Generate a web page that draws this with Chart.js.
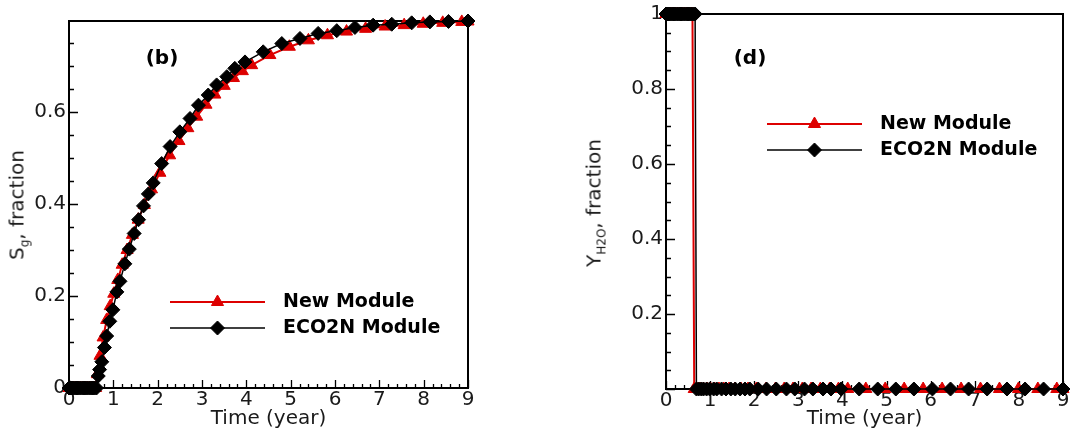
<!DOCTYPE html>
<html lang="en">
<head>
<meta charset="UTF-8">
<title>Sg and Y_H2O vs time</title>
<script src="https://cdn.jsdelivr.net/npm/chart.js"></script>
<style>
  body { margin: 0; background: #fff; font-family: "DejaVu Sans", sans-serif; color: #1a1a1a; }
  .wrap { position: relative; width: 1071px; height: 434px; overflow: hidden; }
  .panel { position: absolute; top: 0; height: 434px; }
  #panelB { left: 0; width: 535px; }
  #panelD { left: 535px; width: 536px; }
  .ytitle { position: absolute; transform: translate(-50%, -50%) rotate(-90deg); white-space: nowrap; font-size: 20px; }
  .ytitle sub { font-size: 12px; }
  .tag { position: absolute; transform: translate(-50%, -50%); font-weight: bold; font-size: 20px; color: #000; }
</style>
</head>
<body>
<div class="wrap">
  <div class="panel" id="panelB"><canvas id="chartB"></canvas></div>
  <div class="panel" id="panelD"><canvas id="chartD"></canvas></div>
  <div class="ytitle" style="left:18px; top:205px;">S<sub>g</sub>, fraction</div>
  <div class="ytitle" style="left:595px; top:203px;">Y<sub>H2O</sub>, fraction</div>
  <div class="tag" style="left:162px; top:57px;">(b)</div>
  <div class="tag" style="left:750px; top:57px;">(d)</div>
</div>

<script>
// tick labels
const xTicks = [0, 1, 2, 3, 4, 5, 6, 7, 8, 9];
const yTicksB = [0, 0.2, 0.4, 0.6];
const yTicksD = [0.2, 0.4, 0.6, 0.8, 1];

// ECO2N module (black diamonds)
const timeEco2n = [0, 0.02, 0.04, 0.07, 0.1, 0.14, 0.18, 0.22, 0.26, 0.3, 0.34, 0.38, 0.42, 0.46, 0.5, 0.54, 0.58, 0.62,
  0.66, 0.69, 0.74, 0.8, 0.85, 0.92, 0.99, 1.08, 1.15, 1.26, 1.36, 1.47, 1.57, 1.68, 1.79, 1.9,
  2.09, 2.28, 2.5, 2.73, 2.92, 3.14, 3.33, 3.56, 3.74, 3.97,
  4.38, 4.8, 5.21, 5.62, 6.04, 6.45, 6.86, 7.28, 7.73, 8.14, 8.56, 9.0];
const sgEco2n = [0, 0, 0, 0, 0, 0, 0, 0, 0, 0, 0, 0, 0, 0, 0, 0, 0, 0,
  0.026, 0.04, 0.057, 0.088, 0.113, 0.145, 0.17, 0.209, 0.232, 0.27, 0.302, 0.336, 0.366, 0.396, 0.422, 0.446,
  0.488, 0.525, 0.557, 0.586, 0.615, 0.637, 0.659, 0.677, 0.695, 0.709,
  0.731, 0.749, 0.76, 0.771, 0.777, 0.784, 0.789, 0.791, 0.794, 0.796, 0.797, 0.798];
const yh2oEco2n = [1, 1, 1, 1, 1, 1, 1, 1, 1, 1, 1, 1, 1, 1, 1, 1, 1, 1,
  1, 0, 0, 0, 0, 0, 0, 0, 0, 0, 0, 0, 0, 0, 0, 0,
  0, 0, 0, 0, 0, 0, 0, 0, 0, 0,
  0, 0, 0, 0, 0, 0, 0, 0, 0, 0, 0, 0];

// New module (red triangles)
const timeNew = [0, 0.02, 0.04, 0.07, 0.1, 0.14, 0.18, 0.22, 0.26, 0.3, 0.34, 0.38, 0.42, 0.46, 0.5, 0.54, 0.58, 0.6,
  0.64, 0.7, 0.77, 0.85, 0.93, 1.01, 1.1, 1.2, 1.31, 1.43, 1.56, 1.7, 1.86, 2.05, 2.27, 2.48, 2.68, 2.88,
  3.09, 3.29, 3.5, 3.71, 3.91, 4.12,
  4.53, 4.97, 5.4, 5.83, 6.26, 6.69, 7.13, 7.56, 7.99, 8.43, 8.86, 9.0];
const sgNew = [0, 0, 0, 0, 0, 0, 0, 0, 0, 0, 0, 0, 0, 0, 0, 0, 0, 0,
  0.03, 0.07, 0.11, 0.148, 0.178, 0.205, 0.235, 0.268, 0.3, 0.333, 0.366, 0.398, 0.432, 0.468, 0.506, 0.537, 0.565, 0.59,
  0.616, 0.638, 0.657, 0.674, 0.689, 0.702,
  0.724, 0.742, 0.756, 0.767, 0.775, 0.781, 0.786, 0.789, 0.792, 0.794, 0.796, 0.797];
const yh2oNew = [1, 1, 1, 1, 1, 1, 1, 1, 1, 1, 1, 1, 1, 1, 1, 1, 1, 1,
  0, 0, 0, 0, 0, 0, 0, 0, 0, 0, 0, 0, 0, 0, 0, 0, 0, 0,
  0, 0, 0, 0, 0, 0,
  0, 0, 0, 0, 0, 0, 0, 0, 0, 0, 0, 0];

const FONT = '"DejaVu Sans", sans-serif';
const TEXT = '#1a1a1a';
const RED = '#dd0000';
Chart.defaults.font.family = FONT;
Chart.defaults.color = TEXT;

// box frame + inward ticks (Tecplot style)
const frameTicks = {
  id: 'frameTicks',
  beforeDatasetsDraw(chart, args, o) {
    const { ctx, chartArea: a } = chart;
    const x = chart.scales.x, y = chart.scales.y;
    ctx.save();
    ctx.strokeStyle = '#000';
    ctx.lineWidth = 1.3;
    ctx.beginPath();
    const nx = Math.round((x.max - x.min) / o.xMinor);
    for (let i = 0; i <= nx; i++) {
      const v = x.min + i * o.xMinor;
      const major = Math.abs(v / o.xMajor - Math.round(v / o.xMajor)) < 1e-6;
      const px = Math.round(x.getPixelForValue(v)) + 0.5;
      ctx.moveTo(px, a.bottom);
      ctx.lineTo(px, a.bottom - (major ? 8 : 4));
    }
    const ny = Math.floor((y.max - y.min) / o.yMinor + 1e-6);
    for (let i = 0; i <= ny; i++) {
      const v = y.min + i * o.yMinor;
      const major = Math.abs(v / o.yMajor - Math.round(v / o.yMajor)) < 1e-6;
      const py = Math.round(y.getPixelForValue(v)) + 0.5;
      ctx.moveTo(a.left, py);
      ctx.lineTo(a.left + (major ? 9 : 5), py);
    }
    ctx.stroke();
    ctx.lineWidth = 2;
    ctx.strokeRect(a.left, a.top, a.right - a.left, a.bottom - a.top);
    ctx.restore();
  }
};

// legend inside the plot: line with marker in the middle
const insetLegend = {
  id: 'insetLegend',
  afterDatasetsDraw(chart, args, o) {
    const { ctx } = chart;
    const items = chart.data.datasets.slice().sort((p, q) => q.order - p.order);
    items.forEach((ds, i) => {
      const yy = o.y + i * o.dy;
      ctx.save();
      ctx.strokeStyle = ds.borderColor;
      ctx.lineWidth = ds.borderWidth;
      ctx.beginPath();
      ctx.moveTo(o.x1, yy);
      ctx.lineTo(o.x2, yy);
      ctx.stroke();
      ctx.fillStyle = ds.pointBackgroundColor;
      ctx.strokeStyle = ds.pointBorderColor;
      ctx.lineWidth = 1;
      Chart.helpers.drawPoint(ctx, { pointStyle: ds.pointStyle, radius: ds.pointRadius, rotation: 0, borderWidth: 1 }, (o.x1 + o.x2) / 2, yy);
      ctx.fillStyle = '#000';
      ctx.font = 'bold 19px ' + FONT;
      ctx.textBaseline = 'middle';
      ctx.textAlign = 'left';
      ctx.fillText(ds.label, o.textX, yy);
      ctx.restore();
    });
  }
};

function series(label, times, values, color, style, width, order) {
  return {
    label: label,
    data: times.map((t, i) => ({ x: t, y: values[i] })),
    borderColor: color,
    backgroundColor: color,
    pointBackgroundColor: color,
    pointBorderColor: color,
    borderWidth: width,
    pointStyle: style,
    pointRadius: 7,
    pointHoverRadius: 7,
    pointBorderWidth: 1,
    tension: 0,
    clip: false,
    order: order
  };
}

function makeChart(id, o) {
  return new Chart(document.getElementById(id), {
    type: 'line',
    data: {
      datasets: [
        series('New Module', timeNew, o.newVals, RED, 'triangle', 2, 2),
        series('ECO2N Module', timeEco2n, o.ecoVals, '#000', 'rectRot', 1.5, 1)
      ]
    },
    options: {
      responsive: true,
      maintainAspectRatio: false,
      animation: false,
      events: [],
      layout: { padding: { top: o.top, right: o.right, left: 0, bottom: 0 } },
      plugins: {
        legend: { display: false },
        tooltip: { enabled: false },
        frameTicks: { xMinor: 0.2, xMajor: 1, yMinor: 0.05, yMajor: 0.2 },
        insetLegend: o.legend
      },
      scales: {
        x: {
          type: 'linear', min: 0, max: 9,
          afterBuildTicks: s => { s.ticks = xTicks.map(v => ({ value: v })); },
          afterFit: s => { s.height = o.xHeight; s.paddingLeft = 0; s.paddingRight = 0; },
          grid: { display: false, drawTicks: false, tickLength: 0 },
          border: { display: false },
          ticks: { autoSkip: false, maxRotation: 0, padding: 2, color: TEXT, font: { size: 20, lineHeight: 1 }, callback: v => String(v) },
          title: { display: true, text: 'Time (year)', color: TEXT, font: { size: 20 }, padding: { top: 0, bottom: 3 } }
        },
        y: {
          type: 'linear', min: 0, max: o.yMax,
          afterBuildTicks: s => { s.ticks = o.yTicks.map(v => ({ value: v })); },
          afterFit: s => { s.width = o.yWidth; s.paddingTop = 0; s.paddingBottom = 0; },
          grid: { display: false, drawTicks: false, tickLength: 0 },
          border: { display: false },
          ticks: { autoSkip: false, padding: 3, color: TEXT, font: { size: 20, lineHeight: 1 }, callback: v => String(v) }
        }
      }
    },
    plugins: [frameTicks, insetLegend]
  });
}

makeChart('chartB', {
  newVals: sgNew, ecoVals: sgEco2n,
  yMax: 0.798, yTicks: yTicksB,
  top: 21, right: 67, yWidth: 69, xHeight: 46,
  legend: { x1: 170, x2: 265, y: 302, dy: 26, textX: 283 }
});

makeChart('chartD', {
  newVals: yh2oNew, ecoVals: yh2oEco2n,
  yMax: 1, yTicks: yTicksD,
  top: 14, right: 5, yWidth: 131, xHeight: 45,
  legend: { x1: 232, x2: 327, y: 124, dy: 26, textX: 345 }
});
</script>
</body>
</html>
